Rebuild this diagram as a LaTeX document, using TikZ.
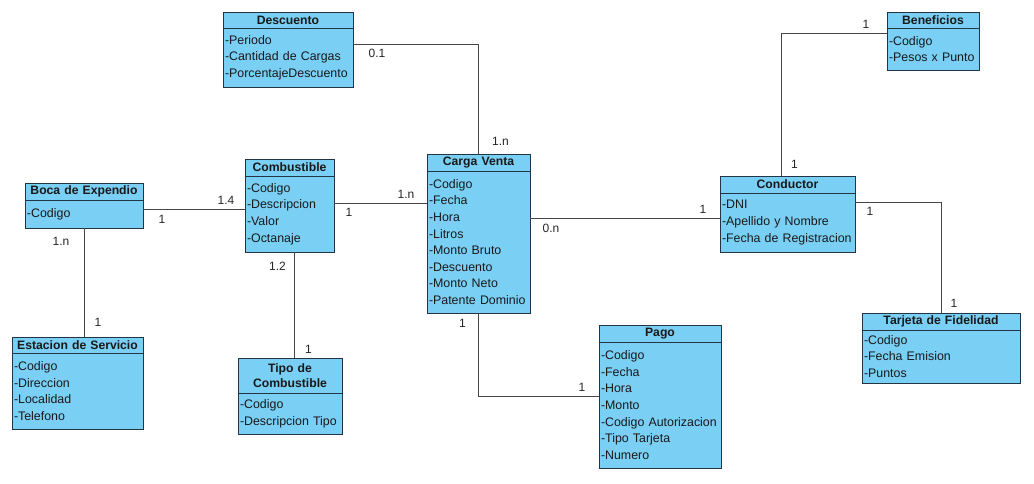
\documentclass[tikz,border=0pt]{standalone}
\usepackage{fontspec}
\setmainfont{Liberation Sans}
\usepackage{xcolor}
\usepackage{tikz}
\usetikzlibrary{positioning}
\definecolor{classfill}{RGB}{122,207,245}
\definecolor{classline}{RGB}{35,52,68}
\definecolor{linkline}{RGB}{70,70,70}
\tikzset{
    cnode/.style = {draw=classline, fill=classfill, line width=0.8pt, inner xsep=2pt, inner ysep=1pt, outer sep=0pt, text=black!90},
    class_head/.style = {cnode, font=\fontsize{12.2}{15}\selectfont\bfseries, align=center, minimum height=#1},
    class_body/.style = {cnode, font=\fontsize{12.4}{16.6}\selectfont, align=left, minimum height=#1},
    link/.style = {draw=linkline, line width=0.9pt},
    mult/.style = {inner sep=0pt, font=\fontsize{12}{14}\selectfont, text=black!85}
}

\begin{document}
\begin{tikzpicture}[x=1pt, y=-1pt]
    \path[fill=white] (0,0) rectangle (1034,483);

    \node[class_head=16pt, text width=126pt, anchor=north west] (desc_h) at (223,12) {Descuento};
    \node[class_body=59pt, text width=126pt, below=0pt of desc_h] (desc_b) {-Periodo\\-Cantidad de Cargas\\-PorcentajeDescuento};

    \node[class_head=17pt, text width=114pt, anchor=north west] (boca_h) at (25,183) {Boca de Expendio};
    \node[class_body=28pt, text width=114pt, below=0pt of boca_h] (boca_b) {-Codigo};

    \node[class_head=17pt, text width=85pt, anchor=north west] (comb_h) at (245,159) {Combustible};
    \node[class_body=76pt, text width=85pt, below=0pt of comb_h] (comb_b) {-Codigo\\-Descripcion\\-Valor\\-Octanaje};

    \node[class_head=17pt, text width=99pt, anchor=north west] (carga_h) at (427,154) {Carga Venta};
    \node[class_body=142pt, text width=99pt, below=0pt of carga_h] (carga_b) {-Codigo\\-Fecha\\-Hora\\-Litros\\-Monto Bruto\\-Descuento\\-Monto Neto\\-Patente Dominio};

    \node[class_head=17pt, text width=131pt, anchor=north west] (cond_h) at (720,176) {Conductor};
    \node[class_body=59pt, text width=131pt, below=0pt of cond_h] (cond_b) {-DNI\\-Apellido y Nombre\\-Fecha de Registracion};

    \node[class_head=16pt, text width=88pt, anchor=north west] (benef_h) at (887,12) {Beneficios};
    \node[class_body=42pt, text width=88pt, below=0pt of benef_h] (benef_b) {-Codigo\\-Pesos x Punto};

    \node[class_head=17pt, text width=154pt, anchor=north west] (tarj_h) at (862,313) {Tarjeta de Fidelidad};
    \node[class_body=53pt, text width=154pt, below=0pt of tarj_h] (tarj_b) {-Codigo\\-Fecha Emision\\-Puntos};

    \node[class_head=16pt, text width=127pt, anchor=north west] (estac_h) at (12,337) {Estacion de Servicio};
    \node[class_body=76pt, text width=127pt, below=0pt of estac_h] (estac_b) {-Codigo\\-Direccion\\-Localidad\\-Telefono};

    \node[class_head=35pt, text width=100pt, anchor=north west] (tipo_h) at (238,358) {Tipo de\\Combustible};
    \node[class_body=41pt, text width=100pt, below=0pt of tipo_h] (tipo_b) {-Codigo\\-Descripcion Tipo};

    \node[class_head=17pt, text width=118pt, anchor=north west] (pago_h) at (599,325) {Pago};
    \node[class_body=126pt, text width=118pt, below=0pt of pago_h] (pago_b) {-Codigo\\-Fecha\\-Hora\\-Monto\\-Codigo Autorizacion\\-Tipo Tarjeta\\-Numero};

    \coordinate (bc) at ([yshift=-9pt]boca_b.north east);
    \coordinate (ce) at (bc -| comb_b.west);
    \draw[link] (bc) -- (ce);
    \node[mult] (m_bc) at ([shift={(19pt,-10pt)}]bc) {1};
    \node[mult] (m_ce) at ([shift={(-19pt,8.5pt)}]ce) {1.4};

    \coordinate (cc) at ([yshift=-27pt]comb_b.north east);
    \coordinate (cv) at (cc -| carga_b.west);
    \draw[link] (cc) -- (cv);
    \node[mult] (m_cc) at ([shift={(15pt,-9pt)}]cc) {1};
    \node[mult] (m_cv) at ([shift={(-21pt,9pt)}]cv) {1.n};

    \coordinate (dc) at ([yshift=-16pt]desc_b.north east);
    \draw[link] (dc) -| (carga_h.north);
    \node[mult] (m_dc) at ([shift={(24pt,-9pt)}]dc) {0.1};
    \node[mult] (m_ct) at ([shift={(22pt,13pt)}]carga_h.north) {1.n};

    \coordinate (cr) at ([yshift=-47pt]carga_b.north east);
    \coordinate (cw) at (cr -| cond_b.west);
    \draw[link] (cr) -- (cw);
    \node[mult] (m_cr) at ([shift={(21pt,-10pt)}]cr) {0.n};
    \node[mult] (m_cw) at ([shift={(-17pt,9pt)}]cw) {1};

    \coordinate (bf) at ([yshift=-5pt]benef_b.north west);
    \coordinate (nt) at ([xshift=-6pt]cond_h.north);
    \draw[link] (bf) -| (nt);
    \node[mult] (m_bf) at ([shift={(-21pt,9pt)}]bf) {1};
    \node[mult] (m_nt) at ([shift={(13pt,12pt)}]nt) {1};

    \coordinate (cd) at ([yshift=-9pt]cond_b.north east);
    \draw[link] (cd) -| (tarj_h.north);
    \node[mult] (m_cd) at ([shift={(15pt,-9pt)}]cd) {1};
    \node[mult] (m_tt) at ([shift={(13pt,10pt)}]tarj_h.north) {1};

    \coordinate (es) at (boca_b.south |- estac_h.north);
    \draw[link] (boca_b.south) -- (es);
    \node[mult] (m_bs) at ([shift={(-23pt,-13pt)}]boca_b.south) {1.n};
    \node[mult] (m_es) at ([shift={(14pt,15pt)}]es) {1};

    \coordinate (cb) at ([xshift=5pt]comb_b.south);
    \coordinate (tc) at (cb |- tipo_h.north);
    \draw[link] (cb) -- (tc);
    \node[mult] (m_cb) at ([shift={(-17pt,-14pt)}]cb) {1.2};
    \node[mult] (m_tc) at ([shift={(14pt,9pt)}]tc) {1};

    \coordinate (pw) at ([yshift=-54pt]pago_b.north west);
    \draw[link] (carga_b.south) |- (pw);
    \node[mult] (m_cs) at ([shift={(-16pt,-10pt)}]carga_b.south) {1};
    \node[mult] (m_pw) at ([shift={(-17pt,9pt)}]pw) {1};
\end{tikzpicture}
\end{document}
